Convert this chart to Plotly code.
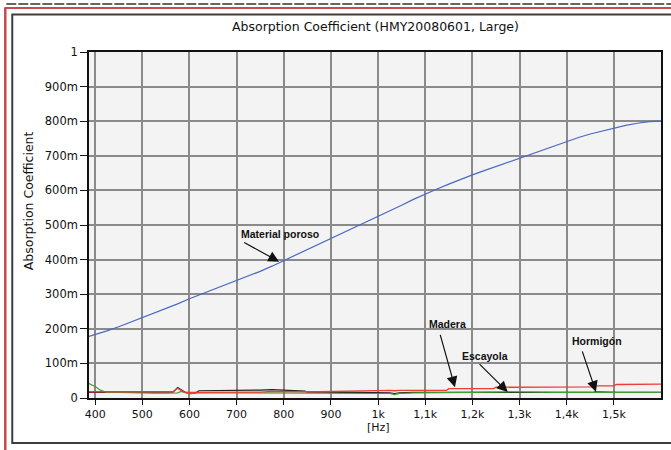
import plotly.graph_objects as go

# ---------------- data ----------------
freq_poroso = [387, 400, 425, 450, 475, 500, 525, 550, 575, 600, 625, 650, 675, 700,
               725, 750, 775, 800, 825, 850, 875, 900, 925, 950, 975, 1000, 1025, 1050,
               1075, 1100, 1125, 1150, 1175, 1200, 1225, 1250, 1275, 1300, 1325, 1350,
               1375, 1400, 1425, 1450, 1475, 1500, 1525, 1550, 1575, 1600]
material_poroso = [0.178, 0.183, 0.194, 0.206, 0.219, 0.232, 0.245, 0.258, 0.272, 0.287,
                   0.300, 0.313, 0.326, 0.339, 0.352, 0.366, 0.381, 0.397, 0.412, 0.428,
                   0.443, 0.459, 0.475, 0.491, 0.507, 0.523, 0.540, 0.557, 0.574, 0.590,
                   0.604, 0.618, 0.632, 0.645, 0.657, 0.669, 0.681, 0.693, 0.706, 0.718,
                   0.731, 0.743, 0.753, 0.763, 0.772, 0.780, 0.788, 0.794, 0.799, 0.800]

freq_low = [387, 400, 412, 425, 450, 475, 500, 525, 550, 565, 575, 582, 590, 600, 612,
            620, 650, 675, 700, 725, 750, 775, 800, 825, 845, 850, 875, 900, 925, 950,
            975, 1000, 1025, 1035, 1045, 1075, 1100, 1125, 1145, 1150, 1175, 1200, 1225,
            1245, 1250, 1275, 1300, 1325, 1350, 1375, 1400, 1425, 1455, 1460, 1475, 1500,
            1505, 1525, 1550, 1575, 1600]
madera = [0.018, 0.018, 0.018, 0.018, 0.018, 0.018, 0.017, 0.017, 0.017, 0.018, 0.028,
          0.022, 0.016, 0.016, 0.016, 0.017, 0.017, 0.018, 0.017, 0.018, 0.017, 0.019,
          0.018, 0.017, 0.018, 0.018, 0.018, 0.019, 0.020, 0.020, 0.021, 0.021, 0.022,
          0.021, 0.022, 0.022, 0.022, 0.022, 0.022, 0.027, 0.027, 0.027, 0.027, 0.027,
          0.031, 0.031, 0.031, 0.031, 0.031, 0.032, 0.031, 0.032, 0.032, 0.035, 0.035,
          0.035, 0.039, 0.039, 0.039, 0.039, 0.040]
hormigon = [0.016, 0.016, 0.016, 0.016, 0.016, 0.016, 0.016, 0.016, 0.016, 0.017, 0.030,
            0.025, 0.017, 0.014, 0.014, 0.021, 0.021, 0.021, 0.022, 0.022, 0.023, 0.024,
            0.022, 0.021, 0.020, 0.017, 0.016, 0.016, 0.016, 0.016, 0.016, 0.016, 0.015,
            0.013, 0.015, 0.016, 0.016, 0.016, 0.016, 0.016, 0.016, 0.016, 0.016, 0.016,
            0.016, 0.015, 0.015, 0.016, 0.016, 0.016, 0.016, 0.016, 0.016, 0.018, 0.017,
            0.016, 0.016, 0.016, 0.016, 0.016, 0.016]
escayola = [0.042, 0.033, 0.022, 0.016, 0.016, 0.015, 0.013, 0.014, 0.014, 0.014, 0.015,
            0.019, 0.016, 0.012, 0.014, 0.015, 0.015, 0.014, 0.015, 0.015, 0.015, 0.015,
            0.015, 0.015, 0.015, 0.015, 0.015, 0.015, 0.015, 0.015, 0.015, 0.015, 0.013,
            0.010, 0.013, 0.015, 0.015, 0.015, 0.015, 0.015, 0.015, 0.015, 0.015, 0.015,
            0.017, 0.018, 0.017, 0.017, 0.017, 0.016, 0.016, 0.016, 0.016, 0.017, 0.017,
            0.016, 0.016, 0.016, 0.016, 0.016, 0.016]

x_tickvals = [400, 500, 600, 700, 800, 900, 1000, 1100, 1200, 1300, 1400, 1500]
x_ticktext = ["400", "500", "600", "700", "800", "900", "1k", "1,1k", "1,2k", "1,3k", "1,4k", "1,5k"]
y_tickvals = [0, 0.1, 0.2, 0.3, 0.4, 0.5, 0.6, 0.7, 0.8, 0.9, 1.0]
y_ticktext = ["0", "100m", "200m", "300m", "400m", "500m", "600m", "700m", "800m", "900m", "1"]

title_text = "Absorption Coefficient (HMY20080601, Large)"
y_title = "Absorption Coefficient"
x_title = "[Hz]"

labels = ["Material poroso", "Madera", "Escayola", "Hormigón"]

# ---------------- figure ----------------
W, H = 671, 450
L, R, T, B = 89, 8, 52, 52
PW, PH = W - L - R, H - T - B


def px(xp):
    return (xp - L) / PW


def py(yp):
    return (H - B - yp) / PH


fig = go.Figure()
fig.add_trace(go.Scatter(x=freq_poroso, y=material_poroso, mode="lines",
                         line=dict(color="#4b69c2", width=1.2), name=labels[0]))
fig.add_trace(go.Scatter(x=freq_low, y=hormigon, mode="lines",
                         line=dict(color="#1e1e1e", width=1.2), name=labels[3]))
fig.add_trace(go.Scatter(x=freq_low, y=escayola, mode="lines",
                         line=dict(color="#3f9e2f", width=1.2), name=labels[2]))
fig.add_trace(go.Scatter(x=freq_low, y=madera, mode="lines",
                         line=dict(color="#f03a3a", width=1.3), name=labels[1]))

font_main = "DejaVu Sans, Liberation Sans, Arial, sans-serif"
font_label = "Liberation Sans, Arial, sans-serif"

fig.update_layout(
    width=W, height=H,
    margin=dict(l=L, r=R, t=T, b=B, pad=0),
    paper_bgcolor="white",
    plot_bgcolor="#f2f3f2",
    showlegend=False,
    font=dict(family=font_main, size=11, color="#111"),
    xaxis=dict(range=[387, 1600], tickvals=x_tickvals, ticktext=x_ticktext,
               showgrid=True, gridcolor="#8a8a8a", gridwidth=2,
               showline=True, linecolor="#111", linewidth=1.5, mirror=True,
               ticks="outside", ticklen=5, tickcolor="#111", tickwidth=1,
               zeroline=False, tickfont=dict(size=11)),
    yaxis=dict(range=[0, 1], tickvals=y_tickvals, ticktext=y_ticktext,
               showgrid=True, gridcolor="#8a8a8a", gridwidth=2,
               showline=True, linecolor="#111", linewidth=1.5, mirror=True,
               ticks="outside", ticklen=7, tickcolor="#111", tickwidth=1,
               zeroline=False, tickfont=dict(size=11.5)),
)

# frame decorations
shapes = [
    dict(type="line", xref="paper", yref="paper", x0=px(6), x1=px(680), y0=py(4), y1=py(4),
         line=dict(color="#333", width=1.5, dash="10px,2px")),
    dict(type="line", xref="paper", yref="paper", x0=px(4), x1=px(680), y0=py(8), y1=py(8),
         line=dict(color="#c84a4a", width=2)),
    dict(type="line", xref="paper", yref="paper", x0=px(5), x1=px(5), y0=py(8), y1=py(460),
         line=dict(color="#c84a4a", width=2.5)),
    dict(type="rect", xref="paper", yref="paper", x0=px(12), x1=px(690), y0=py(14.5), y1=py(443),
         line=dict(color="#3c3c3c", width=2)),
]
fig.update_layout(shapes=shapes)

ann = [
    dict(text=title_text, xref="paper", yref="paper", x=px(376), y=py(27),
         xanchor="center", yanchor="middle",
         showarrow=False, font=dict(size=12.5, family=font_main)),
    dict(text=y_title, xref="paper", yref="paper", x=px(28), y=py(201),
         xanchor="center", yanchor="middle",
         showarrow=False, textangle=-90, font=dict(size=12.5, family=font_main)),
    dict(text=x_title, xref="paper", yref="paper", x=px(380), y=py(428),
         xanchor="center", yanchor="middle",
         showarrow=False, font=dict(size=11, family=font_main)),
]

# labels with arrows (tip in data coords, tail in data coords)
arrows = [
    (labels[0], 792, 0.474, 790, 0.394, 713, 0.452),
    (labels[1], 1147, 0.214, 1163, 0.031, 1131, 0.187),
    (labels[2], 1227, 0.121, 1275, 0.017, 1212, 0.102),
    (labels[3], 1465, 0.165, 1462, 0.018, 1432, 0.139),
]
for txt, tx, ty, hx, hy, tailx, taily in arrows:
    ann.append(dict(text="<b>" + txt + "</b>", x=tx, y=ty, xref="x", yref="y",
                    xanchor="center", yanchor="middle",
                    showarrow=False, font=dict(size=10.5, family=font_label, color="#111")))
    ann.append(dict(text="", x=hx, y=hy, xref="x", yref="y", ax=tailx, ay=taily,
                    axref="x", ayref="y", showarrow=True, arrowhead=2, arrowsize=1.8,
                    arrowwidth=1.2, arrowcolor="#111"))
fig.update_layout(annotations=ann)

fig.write_html("out.html")
